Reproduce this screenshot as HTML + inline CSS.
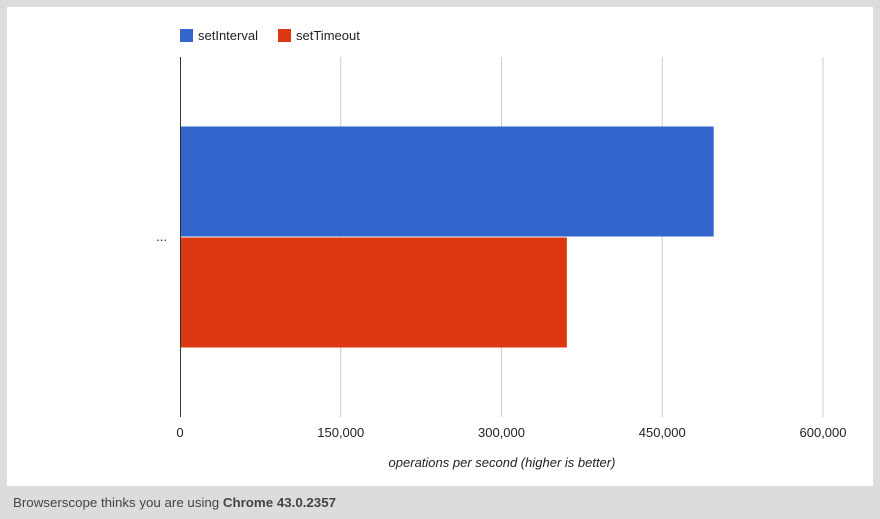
<!DOCTYPE html>
<html><head><meta charset="utf-8"><style>
body{margin:0;width:880px;height:519px;background:#dcdcdc;font-family:"Liberation Sans",Arial,sans-serif;overflow:hidden;position:relative}
#panel{position:absolute;left:7px;top:7px;width:866px;height:479px;background:#fff}
#footer{position:absolute;left:13px;top:495px;font-size:13.3px;color:#444}
svg{position:absolute;left:0;top:0}
</style></head><body>
<div id="panel"></div>
<svg width="880" height="519" id="chart"></svg>
<div id="footer">Browserscope thinks you are using <b>Chrome 43.0.2357</b></div>
<script>
const categories = ["..."];
const seriesNames = ["setInterval", "setTimeout"];
const seriesColors = ["#3366cc", "#dc3912"];
const setIntervalValues = [498000];
const setTimeoutValues = [361000];
const tickValues = [0, 150000, 300000, 450000, 600000];
const tickLabels = ["0", "150,000", "300,000", "450,000", "600,000"];

const NS = "http://www.w3.org/2000/svg";
const svg = document.getElementById("chart");
const x0 = 180, x1 = 823, yTop = 57, yBot = 417, xMax = 600000;
const xs = v => x0 + v / xMax * (x1 - x0);
function mk(tag, attrs, text) {
  const e = document.createElementNS(NS, tag);
  for (const k in attrs) e.setAttribute(k, attrs[k]);
  if (text !== undefined) e.textContent = text;
  svg.appendChild(e);
  return e;
}
tickValues.forEach((v, i) => {
  if (i > 0) {
    const g = mk("line", {x1: xs(v), x2: xs(v), y1: yTop, y2: yBot, stroke: "#cccccc", "stroke-width": 1});
    
    
  }
  const t = mk("text", {x: xs(v), y: 437, "text-anchor": "middle", "font-size": 13, fill: "#222"}, tickLabels[i]);
  
  
});
const series = [setIntervalValues, setTimeoutValues];
const band = (yBot - yTop) / categories.length;
categories.forEach((c, ci) => {
  const bandTop = yTop + ci * band;
  const barH = 110, groupTop = bandTop + (band - 2 * barH - 1) / 2;
  series.forEach((vals, si) => {
    const r = mk("rect", {x: x0, y: groupTop + si * (barH + 1), width: xs(vals[ci]) - x0, height: barH, fill: seriesColors[si]});
    
    
  });
  const l = mk("text", {x: 167, y: bandTop + band / 2 + 4, "text-anchor": "end", "font-size": 13, fill: "#222"}, c);
  
  
});
const ax = mk("line", {x1: x0 + 0.5, x2: x0 + 0.5, y1: yTop, y2: yBot, stroke: "#333", "stroke-width": 1});


const at = mk("text", {x: 502, y: 467, "text-anchor": "middle", "font-size": 13, "font-style": "italic", fill: "#222"}, "operations per second (higher is better)");


const legX = [180, 278];
seriesNames.forEach((n, i) => {
  const s = mk("rect", {x: legX[i], y: 29, width: 13, height: 13, fill: seriesColors[i]});
  
  
  const t = mk("text", {x: legX[i] + 18, y: 40, "font-size": 13, fill: "#222"}, n);
  
  
});
</script>
</body></html>
